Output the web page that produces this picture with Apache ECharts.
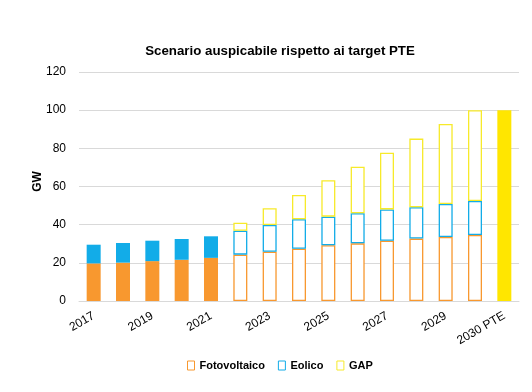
<!DOCTYPE html>
<html><head><meta charset="utf-8">
<script src="https://cdn.jsdelivr.net/npm/echarts@6/dist/echarts.min.js"></script>
<style>html,body{margin:0;padding:0;background:#fff}#c{width:532px;height:392px}</style>
</head><body><div id="c"></div>
<script>
const categories = ['2017','2018','2019','2020','2021','2022','2023','2024','2025','2026','2027','2028','2029','2030','2030 PTE'];
const fotovoltaico = [19.7, 20.1, 20.9, 21.6, 22.6, 24.3, 25.8, 27.4, 29.2, 30.2, 31.6, 32.7, 33.5, 34.6, 0];
const eolico       = [9.8, 10.3, 10.7, 10.9, 11.3, 12.5, 14.0, 15.4, 15.0, 15.8, 16.4, 16.4, 17.3, 17.8, 0];
const gap          = [0, 0, 0, 0, 0, 4.2, 8.8, 12.8, 19.1, 24.4, 29.7, 36.0, 42.0, 47.6, 100];
const yTicks = [0, 20, 40, 60, 80, 100, 120];
const seriesNames = ['Fotovoltaico', 'Eolico', 'GAP'];

const ORANGE = '#F8982F', BLUE = '#12ACE8', YELLOW = '#FFE600', YELLOW_LINE = '#F7EA2A';
const FONT = '"Liberation Sans", Arial, sans-serif';
const nActual = 5;

function styled(values, fill, line) {
  return values.map((v, i) => {
    if (i === categories.length - 1) {
      return { value: v, itemStyle: { color: YELLOW, borderWidth: 0 } };
    }
    if (i < nActual) {
      return { value: v, itemStyle: { color: fill, borderWidth: 0 } };
    }
    return { value: v, itemStyle: { color: '#ffffff', borderColor: line, borderWidth: 1.3 } };
  });
}

const chart = echarts.init(document.getElementById('c'), null, { renderer: 'canvas' });
chart.setOption({
  animation: false,
  backgroundColor: '#ffffff',
  title: {
    text: 'Scenario auspicabile rispetto ai target PTE',
    left: 275, top: 40, textAlign: 'center',
    textStyle: { fontFamily: FONT, fontSize: 13.3, fontWeight: 'bold', color: '#000' }
  },
  grid: { left: 79, right: 13, top: 72, bottom: 91, containLabel: false },
  legend: {
    left: 182, top: 355,
    itemWidth: 7, itemHeight: 9, itemGap: 13,
    textStyle: { fontFamily: FONT, fontSize: 11, fontWeight: 'bold', color: '#000' },
    data: [
      { name: seriesNames[0], icon: 'rect', itemStyle: { color: '#fff', borderColor: ORANGE, borderWidth: 1 } },
      { name: seriesNames[1], icon: 'rect', itemStyle: { color: '#fff', borderColor: BLUE, borderWidth: 1 } },
      { name: seriesNames[2], icon: 'rect', itemStyle: { color: '#fff', borderColor: YELLOW_LINE, borderWidth: 1 } }
    ]
  },
  xAxis: {
    type: 'category', data: categories,
    axisTick: { show: false },
    axisLine: { lineStyle: { color: '#d9d9d9' } },
    axisLabel: { interval: 1, rotate: 30, margin: 14, fontFamily: FONT, fontSize: 12, color: '#000' }
  },
  yAxis: {
    type: 'value', min: yTicks[0], max: yTicks[yTicks.length - 1], interval: 20,
    name: 'GW', nameLocation: 'middle', nameRotate: 90, nameGap: 35, nameMoveOverlap: false,
    nameTextStyle: { fontFamily: FONT, fontSize: 12, fontWeight: 'bold', color: '#000', padding: [0, 0, 0, 10] },
    axisLine: { show: false }, axisTick: { show: false },
    splitLine: { lineStyle: { color: '#d9d9d9', width: 1 } },
    axisLabel: { margin: 13, fontFamily: FONT, fontSize: 12, color: '#000' }
  },
  series: [
    { name: seriesNames[0], type: 'bar', stack: 't', barWidth: 14, data: styled(fotovoltaico, ORANGE, ORANGE) },
    { name: seriesNames[1], type: 'bar', stack: 't', barWidth: 14, data: styled(eolico, BLUE, BLUE) },
    { name: seriesNames[2], type: 'bar', stack: 't', barWidth: 14, data: styled(gap, YELLOW, YELLOW_LINE) }
  ]
});
</script>
</body></html>
